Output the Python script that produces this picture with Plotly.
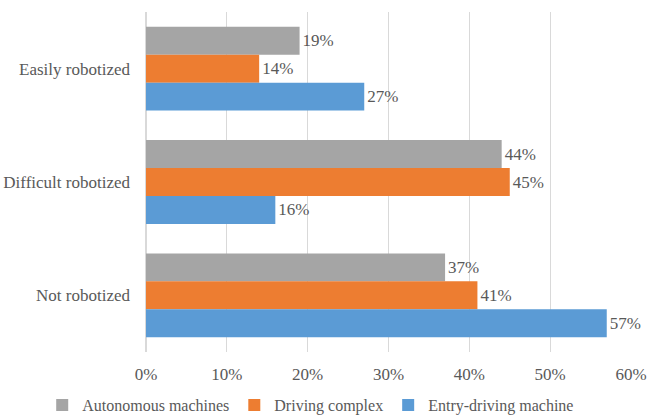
import plotly.graph_objects as go

categories = ["Easily robotized", "Difficult robotized", "Not robotized"]
series_names = ["Autonomous machines", "Driving complex", "Entry-driving machine"]
autonomous = [0.19, 0.44, 0.37]
driving_complex = [0.14, 0.45, 0.41]
entry_driving = [0.27, 0.16, 0.57]
colors = ["#A5A5A5", "#ED7D31", "#5B9BD5"]
x_ticks = [0, 0.1, 0.2, 0.3, 0.4, 0.5, 0.6]

font_family = "Liberation Serif, Times New Roman, serif"
text_color = "#595959"
fs = 17

fig = go.Figure()
for name, vals, col in zip(series_names, [autonomous, driving_complex, entry_driving], colors):
    fig.add_trace(go.Bar(
        y=categories, x=vals, name=name, orientation="h",
        marker=dict(color=col, line=dict(width=0)),
        text=[f"{round(v*100)}%" for v in vals],
        textposition="outside", cliponaxis=False,
        textfont=dict(family=font_family, size=fs, color=text_color),
    ))

fig.update_layout(
    barmode="group", bargap=0.26, bargroupgap=0,
    width=665, height=417,
    margin=dict(l=146, r=34, t=12, b=65, autoexpand=False),
    paper_bgcolor="white", plot_bgcolor="white",
    font=dict(family=font_family, size=fs, color=text_color),
    legend=dict(orientation="h", x=-0.214, xanchor="left", y=-0.156, yanchor="middle",
                font=dict(family=font_family, size=16, color=text_color),
                itemwidth=30, tracegroupgap=0, bgcolor="rgba(0,0,0,0)"),
    showlegend=True,
)
fig.update_xaxes(range=[0, 0.6], tickvals=x_ticks, tickformat=".0%",
                 showgrid=True, gridcolor="#D9D9D9", gridwidth=1,
                 zeroline=True, zerolinecolor="#D9D9D9", showline=False,
                 ticks="", ticklabelstandoff=10,
                 tickfont=dict(family=font_family, size=fs, color=text_color))
fig.update_yaxes(autorange="reversed", showgrid=False, ticks="", ticklen=0,
                 ticklabelstandoff=15,
                 tickfont=dict(family=font_family, size=fs, color=text_color))

fig.write_html("out.html")
